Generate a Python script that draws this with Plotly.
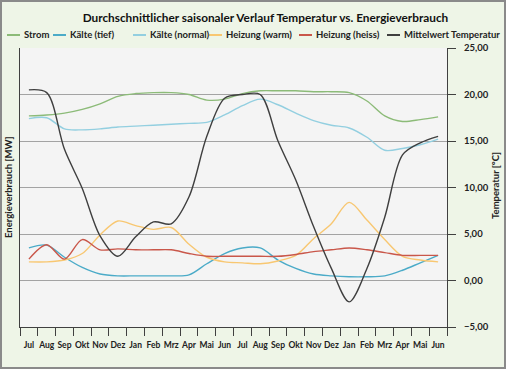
import plotly.graph_objects as go

months = ["Jul", "Aug", "Sep", "Okt", "Nov", "Dez", "Jan", "Feb", "Mrz", "Apr", "Mai", "Jun",
          "Jul", "Aug", "Sep", "Okt", "Nov", "Dez", "Jan", "Feb", "Mrz", "Apr", "Mai", "Jun"]

strom = [17.7, 17.8, 18.0, 18.4, 19.0, 19.8, 20.1, 20.2, 20.2, 20.0, 19.4, 19.5,
         20.1, 20.4, 20.4, 20.4, 20.3, 20.3, 20.2, 19.3, 17.7, 17.1, 17.3, 17.6]
kaelte_tief = [3.5, 3.8, 2.5, 1.4, 0.7, 0.5, 0.5, 0.5, 0.5, 0.6, 1.8, 2.9,
               3.5, 3.5, 2.2, 1.3, 0.7, 0.5, 0.4, 0.4, 0.5, 1.1, 1.9, 2.7]
kaelte_normal = [17.4, 17.5, 16.3, 16.2, 16.3, 16.5, 16.6, 16.7, 16.8, 16.9, 17.0, 17.8,
                 18.8, 19.5, 18.9, 18.0, 17.2, 16.7, 16.4, 15.4, 14.0, 14.2, 14.6, 15.2]
heizung_warm = [2.0, 2.0, 2.2, 2.9, 4.9, 6.4, 5.9, 5.5, 5.7, 3.9, 2.5, 2.0,
                1.9, 1.8, 2.1, 2.7, 4.5, 6.1, 8.4, 6.5, 4.4, 2.6, 2.2, 2.0]
heizung_heiss = [2.3, 3.85, 2.3, 4.4, 3.3, 3.4, 3.3, 3.3, 3.3, 2.9, 2.6, 2.6,
                 2.6, 2.6, 2.6, 2.8, 3.1, 3.3, 3.5, 3.3, 3.0, 2.7, 2.7, 2.7]
temperatur = [20.5, 20.2, 14.1, 9.9, 4.8, 2.6, 4.7, 6.3, 6.1, 9.0, 15.5, 19.6,
              20.0, 20.0, 15.0, 10.8, 5.8, 1.3, -2.3, 1.3, 6.8, 13.5, 14.8, 15.5]

x = list(range(len(months)))

series = [
    ("Strom", strom, "#8cbb78", "y"),
    ("Kälte (tief)", kaelte_tief, "#4babc8", "y"),
    ("Kälte (normal)", kaelte_normal, "#93cfe0", "y"),
    ("Heizung (warm)", heizung_warm, "#f8c771", "y"),
    ("Heizung (heiss)", heizung_heiss, "#c9574a", "y"),
    ("Mittelwert Temperatur", temperatur, "#3f3f3f", "y2"),
]

FONT = "Lato, 'Open Sans', sans-serif"
fig = go.Figure()
for name, vals, col, ax in series:
    fig.add_trace(go.Scatter(x=x, y=vals, name=name, mode="lines", yaxis=ax,
                             line=dict(color=col, width=1.4, shape="spline", smoothing=0.9),
                             showlegend=False))

# plot area geometry (px) for paper conversions
L, R, T, B = 20, 447, 48, 327
W, H = R - L, B - T
def px(xp):
    return (xp - L) / W
def py(yp):
    return (B - yp) / H

shapes = []
annotations = []
# outer frame
shapes.append(dict(type="rect", xref="paper", yref="paper", x0=px(1), x1=px(505), y0=py(368), y1=py(1),
                   line=dict(color="#8a8a8a", width=2), fillcolor="rgba(0,0,0,0)", layer="below"))
# manual legend
leg = [(7, 22), (53, 68), (133, 148), (209, 224), (299, 314), (387, 402)]
for (name, vals, col, ax), (lx, tx) in zip(series, leg):
    shapes.append(dict(type="line", xref="paper", yref="paper", x0=px(lx), x1=px(lx + 13),
                       y0=py(35), y1=py(35), line=dict(color=col, width=2)))
    annotations.append(dict(text=name, xref="paper", yref="paper", x=px(tx), y=py(35),
                            xanchor="left", yanchor="middle", showarrow=False,
                            font=dict(family=FONT, size=9.5, color="#222", weight="bold")))
# axis titles
annotations.append(dict(text="Energieverbrauch [MW]", xref="paper", yref="paper", x=px(8), y=py(188),
                        xanchor="center", yanchor="middle", textangle=-90, showarrow=False,
                        font=dict(family=FONT, size=9.5, color="#222", weight="bold")))
annotations.append(dict(text="Temperatur [°C]", xref="paper", yref="paper", x=px(495), y=py(185),
                        xanchor="center", yanchor="middle", textangle=-90, showarrow=False,
                        font=dict(family=FONT, size=9.5, color="#222", weight="bold")))

fig.update_layout(
    width=506, height=369,
    margin=dict(l=L, r=506 - R, t=T, b=369 - B),
    paper_bgcolor="#eef5e7",
    plot_bgcolor="#f4f4f4",
    separators=",.",
    font=dict(family=FONT, size=10, color="#222"),
    title=dict(text="Durchschnittlicher saisonaler Verlauf Temperatur vs. Energieverbrauch",
               x=px(244), xanchor="center", y=1 - 18 / 369, yanchor="middle",
               font=dict(family=FONT, size=11.8, color="#111", weight="bold")),
    xaxis=dict(range=[-0.5, 23.5], tickmode="array", tickvals=x, ticktext=months, tickangle=0,
               ticks="outside", ticklen=10, tickcolor="rgba(0,0,0,0)",
               showline=True, linecolor="#404040", linewidth=1, showgrid=False, zeroline=False,
               tickfont=dict(family=FONT, size=8.5, color="#222", weight="bold"),
               minor=dict(tickmode="array", tickvals=[i - 0.5 for i in range(25)],
                          ticks="outside", ticklen=8, tickcolor="#404040", showgrid=False)),
    yaxis=dict(range=[-5, 25], dtick=5, showticklabels=False, ticks="",
               showgrid=True, gridcolor="#a3a3a3", gridwidth=1, zeroline=False,
               showline=True, linecolor="#404040", linewidth=1),
    yaxis2=dict(range=[-5, 25], dtick=5, tickformat=".2f", overlaying="y", side="right",
                ticks="outside", ticklen=8, tickcolor="#404040", showgrid=False, zeroline=False,
                showline=True, linecolor="#404040", linewidth=1, ticklabelstandoff=6,
                tickfont=dict(family=FONT, size=9.5, color="#222", weight="bold")),
    shapes=shapes,
    annotations=annotations,
)

fig.write_html("out.html", config={"displayModeBar": False},
               post_script="document.body.style.margin='0';document.body.style.overflow='hidden';")
